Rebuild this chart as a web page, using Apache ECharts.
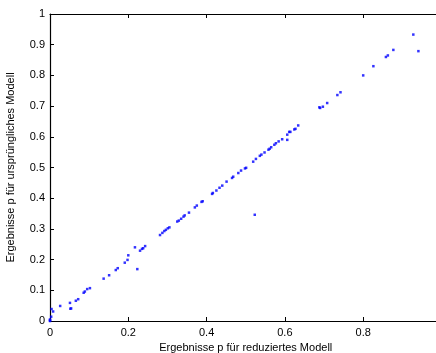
<!DOCTYPE html>
<html><head><meta charset="utf-8">
<script src="https://cdn.jsdelivr.net/npm/echarts@6/dist/echarts.min.js"></script>
<style>html,body{margin:0;padding:0;background:#fff}#c{width:436px;height:353px}</style>
</head><body><div id="c"></div>
<script>
var xLabel = "Ergebnisse p für reduziertes Modell";
var yLabel = "Ergebnisse p für ursprüngliches Modell";
var xReduced = [0,0,0,0.003,0.004,0.008,0.026,0.051,0.052,0.054,0.066,0.072,0.086,0.089,0.095,0.102,
0.137,0.151,0.168,0.173,0.191,0.198,0.200,0.217,0.223,0.230,0.235,0.238,0.243,
0.281,0.287,0.292,0.296,0.301,0.305,0.325,0.329,0.335,0.341,0.344,0.355,0.370,0.375,0.387,0.390,
0.414,0.416,0.425,0.433,0.440,0.451,0.465,0.468,0.481,0.488,0.498,0.501,0.519,0.526,0.536,0.540,
0.548,0.558,0.561,0.565,0.573,0.577,0.584,0.593,0.606,0.606,0.611,0.614,0.624,0.627,0.634,
0.523,0.688,0.690,0.697,0.708,0.734,0.742,0.800,0.826,0.858,0.863,0.877,0.928,0.941];
var yOriginal = [0,0.002,0.005,0.014,0.039,0.031,0.049,0.059,0.040,0.041,0.066,0.071,0.092,0.096,0.104,0.107,
0.138,0.149,0.166,0.172,0.190,0.199,0.214,0.240,0.169,0.229,0.235,0.237,0.244,
0.280,0.287,0.293,0.297,0.302,0.305,0.324,0.327,0.333,0.340,0.344,0.353,0.370,0.376,0.388,0.390,
0.414,0.417,0.425,0.434,0.441,0.454,0.466,0.470,0.482,0.490,0.497,0.499,0.519,0.528,0.538,0.542,
0.549,0.558,0.561,0.566,0.574,0.579,0.585,0.592,0.607,0.590,0.616,0.616,0.624,0.626,0.637,
0.346,0.696,0.694,0.698,0.710,0.736,0.745,0.800,0.830,0.860,0.865,0.883,0.933,0.879];
var pts = xReduced.map(function(v,i){return [v, yOriginal[i]];});
var font = 'Liberation Sans, Arial, sans-serif';
var chart = echarts.init(document.getElementById('c'), null, {renderer:'canvas'});
chart.setOption({
  animation:false,
  backgroundColor:'#fff',
  grid:{left:50, top:14, width:391.5, height:307, containLabel:false, outerBoundsMode:'none'},
  xAxis:[{
    type:'value', min:0, max:1, interval:0.2, position:'bottom',
    name:xLabel, nameLocation:'middle', nameGap:21,
    nameTextStyle:{color:'#000', fontSize:11, fontFamily:font},
    axisLine:{onZero:false, lineStyle:{color:'#000', width:1.2}},
    axisTick:{inside:true, length:4, lineStyle:{color:'#000'}},
    axisLabel:{color:'#000', fontSize:11, fontFamily:font, margin:6,
      formatter:function(v){return String(Math.round(v*10)/10);}},
    splitLine:{show:false}
  },{
    type:'value', min:0, max:1, interval:0.2, position:'top',
    axisLine:{onZero:false, lineStyle:{color:'#000', width:1.2}},
    axisTick:{inside:true, length:4, lineStyle:{color:'#000'}},
    axisLabel:{show:false}, splitLine:{show:false}
  }],
  yAxis:[{
    type:'value', min:0, max:1, interval:0.1, position:'left',
    name:yLabel, nameLocation:'middle', nameGap:34,
    nameTextStyle:{color:'#000', fontSize:11, fontFamily:font},
    axisLine:{onZero:false, lineStyle:{color:'#000', width:1.2}},
    axisTick:{inside:true, length:4, lineStyle:{color:'#000'}},
    axisLabel:{color:'#000', fontSize:11, fontFamily:font, margin:5,
      formatter:function(v){return String(Math.round(v*10)/10);}},
    splitLine:{show:false}
  }],
  series:[{
    type:'scatter', data:pts, symbol:'rect', symbolSize:2.5,
    itemStyle:{color:'#0000ff'}
  }]
});
</script></body></html>
